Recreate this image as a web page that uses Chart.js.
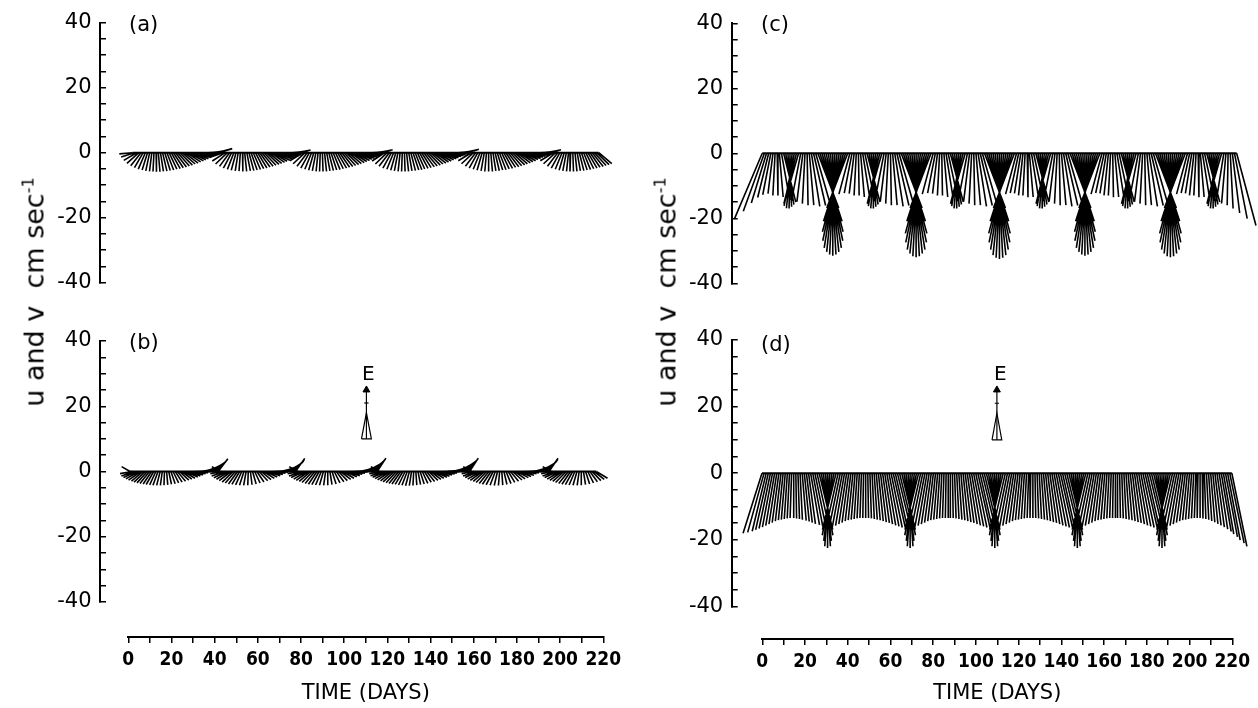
<!DOCTYPE html>
<html>
<head>
<meta charset="utf-8">
<script src="https://cdn.jsdelivr.net/npm/chart.js@4.4.0/dist/chart.umd.min.js"></script>
<style>
  body { margin: 0; background: #fff; width: 1258px; height: 708px; position: relative; overflow: hidden; }
  canvas { position: absolute; }
  .txt { position: absolute; font-family: "DejaVu Sans", sans-serif; color: #000; line-height: 1; white-space: nowrap; }
  .ylab { font-size: 27px; transform-origin: center center; transform: translate(-50%, -50%) rotate(-90deg); }
  .ylab sup { font-size: 16px; }
</style>
</head>
<body>
<canvas id="pa" width="640" height="320" style="left:0px;top:-10px"></canvas>
<canvas id="pb" width="640" height="324" style="left:0px;top:308px"></canvas>
<canvas id="ta" width="640" height="108" style="left:0px;top:600px"></canvas>
<canvas id="pc" width="618" height="322" style="left:640px;top:-10px"></canvas>
<canvas id="pd" width="618" height="330" style="left:640px;top:308px"></canvas>
<canvas id="tc" width="618" height="108" style="left:640px;top:600px"></canvas>

<div class="txt ylab" style="left:34px;top:292px">u and v&nbsp;&nbsp;cm sec<sup>-1</sup></div>
<div class="txt ylab" style="left:666px;top:292px">u and v&nbsp;&nbsp;cm sec<sup>-1</sup></div>
<div class="txt" style="left:129px;top:14px;font-size:21px">(a)</div>
<div class="txt" style="left:129px;top:332px;font-size:21px">(b)</div>
<div class="txt" style="left:761px;top:14px;font-size:21px">(c)</div>
<div class="txt" style="left:761px;top:334px;font-size:21px">(d)</div>
<div class="txt" style="left:362px;top:363px;font-size:20px">E</div>
<div class="txt" style="left:994px;top:363px;font-size:20px">E</div>

<script>
// daily current vectors: speed in cm/s, direction in degrees (0 = north, drawn to the right; 90 = east, drawn up)
const aFirstDay = 2;
const aSpeed = [
  4.0,4.3,4.6,4.9,5.1,5.3,5.5,5.6,5.7,5.8,5.8,5.9,5.9,5.8,5.8,5.7,5.7,5.6,5.6,5.5,5.5,5.4,5.4,5.3,5.3,5.2,5.2,5.1,5.1,5.0,5.0,4.9,4.9,4.8,4.8,4.7,4.7,4.6,4.5,4.4,4.3,
  4.0,4.4,4.7,5.0,5.2,5.4,5.5,5.6,5.7,5.7,5.8,5.8,5.7,5.7,5.6,5.6,5.5,5.5,5.4,5.4,5.3,5.3,5.2,5.2,5.1,5.1,5.0,5.0,4.9,4.9,4.8,4.8,4.7,4.6,4.5,4.4,
  4.1,4.4,4.7,5.0,5.2,5.4,5.5,5.6,5.7,5.8,5.8,5.8,5.8,5.7,5.7,5.6,5.6,5.5,5.5,5.4,5.4,5.3,5.3,5.2,5.2,5.1,5.1,5.0,5.0,4.9,4.9,4.8,4.8,4.7,4.7,4.6,4.5,4.4,
  4.1,4.4,4.7,5.0,5.2,5.4,5.5,5.6,5.7,5.8,5.8,5.8,5.8,5.7,5.7,5.6,5.6,5.5,5.5,5.4,5.4,5.3,5.3,5.2,5.2,5.1,5.1,5.0,5.0,4.9,4.9,4.9,4.8,4.8,4.7,4.7,4.6,4.5,4.5,4.4,
  4.0,4.4,4.7,5.0,5.2,5.4,5.5,5.6,5.7,5.8,5.8,5.8,5.7,5.7,5.6,5.6,5.5,5.5,5.4,5.4,5.3,5.3,5.2,5.2,5.1,5.1,5.0,5.0,4.9,4.9,4.9,4.8,4.8,4.7,4.7,4.6,4.5,4.4,
  4.0,4.4,4.7,5.0,5.2,5.4,5.5,5.6,5.7,5.8,5.8,5.8,5.8,5.7,5.7,5.6,5.6,5.5,5.5,5.4,5.4,5.3,5.3,5.2
];
const aDir = [
  185,198,211,222,232,240,247,253,258,263,267,271,275,279,283,287,291,295,299,303,307,311,315,319,323,327,331,335,339,343,347,351,354,357,0,3,6,9,12,15,17,
  186,200,213,224,234,242,249,255,261,266,271,276,281,285,289,293,297,301,305,309,313,317,321,325,329,333,337,341,345,349,353,357,1,5,8,11,
  185,199,212,223,233,241,248,254,259,264,268,272,276,280,284,288,292,296,300,304,308,312,316,320,324,328,332,336,340,344,348,352,356,0,3,6,9,12,
  186,200,213,224,233,241,248,254,259,264,268,272,276,280,284,288,291,294,298,302,306,310,314,318,322,326,330,334,338,342,346,350,353,356,359,2,5,8,11,14,
  185,199,212,223,233,241,248,254,260,265,270,275,279,283,287,291,295,299,303,307,311,315,319,323,327,331,335,339,343,347,351,354,357,0,3,6,9,12,
  185,199,212,223,233,241,248,254,259,264,268,272,276,280,284,288,292,296,300,304,308,312,316,320
];

const bFirstDay = 1;
const bSpeed = [
  3.0,3.8,4.2,4.4,4.5,4.6,4.6,4.7,4.7,4.7,4.6,4.6,4.5,4.5,4.4,4.3,4.2,4.1,4.0,4.0,3.9,3.9,3.9,3.9,3.9,4.0,4.0,4.0,4.1,4.1,4.2,4.2,4.3,4.4,4.5,4.6,4.7,4.8,4.9,5.0,5.0,4.9,
  3.0,3.8,4.2,4.4,4.5,4.6,4.7,4.7,4.7,4.6,4.5,4.4,4.3,4.2,4.1,4.0,3.9,3.9,3.9,3.9,4.0,4.0,4.1,4.1,4.2,4.3,4.4,4.5,4.6,4.7,4.8,4.9,5.0,5.0,5.0,4.9,
  3.0,3.8,4.2,4.4,4.5,4.6,4.6,4.7,4.7,4.7,4.6,4.5,4.4,4.3,4.2,4.1,4.0,3.9,3.9,3.9,3.9,4.0,4.0,4.1,4.1,4.2,4.3,4.4,4.5,4.6,4.7,4.8,4.9,5.0,5.0,5.0,5.0,4.9,
  3.0,3.8,4.2,4.4,4.5,4.6,4.6,4.7,4.7,4.7,4.7,4.6,4.6,4.5,4.5,4.4,4.3,4.2,4.1,4.0,4.0,3.9,3.9,3.9,3.9,3.9,4.0,4.0,4.0,4.1,4.1,4.2,4.2,4.3,4.4,4.5,4.6,4.7,4.8,4.9,5.0,5.0,4.9,
  3.0,3.8,4.2,4.4,4.5,4.6,4.6,4.7,4.7,4.7,4.6,4.5,4.4,4.3,4.2,4.1,4.0,3.9,3.9,3.9,3.9,4.0,4.0,4.1,4.1,4.2,4.3,4.4,4.5,4.6,4.7,4.8,4.9,5.0,5.0,5.0,4.9,
  3.0,3.8,4.2,4.4,4.5,4.6,4.6,4.7,4.7,4.7,4.6,4.5,4.4,4.3,4.2,4.1,4.0,3.9,3.9,3.9,3.9,4.0
];
const bDir = [
  150,190,199,205,210,215,220,224,228,232,236,240,245,250,256,262,268,275,282,289,296,303,310,317,323,329,335,340,345,350,355,0,5,10,15,20,25,30,35,40,46,53,
  150,190,199,206,212,218,224,229,234,239,245,252,260,268,277,286,295,304,313,321,328,335,341,347,353,358,3,8,13,18,23,28,34,40,47,55,
  150,190,199,205,211,216,221,226,231,236,241,247,254,262,270,279,288,297,306,314,322,329,336,342,348,353,358,3,8,13,18,23,28,33,38,44,50,57,
  150,190,198,204,209,214,219,223,227,231,235,239,244,249,255,261,267,274,281,288,295,302,309,316,322,328,334,339,344,349,354,359,4,9,14,19,24,29,34,39,44,50,57,
  150,190,199,205,211,216,221,226,231,236,242,249,257,265,274,283,292,301,310,318,325,332,338,344,350,355,0,5,10,15,20,25,30,35,41,48,56,
  150,190,199,205,211,216,221,226,231,236,241,247,254,262,270,279,288,297,306,314,322,329
];

const cFirstDay = 0;
const cSpeed = [
  22,19,16,14,13,12.5,13,13,13.5,14.5, 15.5,16,16.5,17,17,16.5,16,15.5, 15,15,15.5,16,16,16.5,16.5,16,
  18,22,25,27.5,29.5,30.5,31.2,31.5,31.2,30.5,29.5,27.5,25,22,18, 13,12.5,12.5,13,13,13.5,14,15, 15.5,16,16.5,17,17,16.5,16,15.5, 15,15,15.5,16,16,16.5,16.5,16,
  18,22,25.5,28,30,31,31.7,32,31.7,31,30,28,25.5,22,18, 13,12.5,12.5,13,13,13.5,14,15, 15.5,16,16.5,17,17,16.5,16,15.5, 15,15,15.5,16,16,16.5,16.5,16,
  18,22,25.5,28,30,31.5,32.2,32.5,32.2,31.5,30,28,25.5,22,18, 13,12.5,12.5,13,13,13.5,13.5,14,15, 15.5,16,16.5,17,17,16.5,16,15.5, 15,15,15.5,16,16,16.5,16.5,16,
  18,22,25,27.5,29.5,30.5,31.2,31.5,31.2,30.5,29.5,27.5,25,22,18, 13,12.5,12.5,13,13,13.5,13.5,14,15, 15.5,16,16.5,17,17,16.5,16,15.5, 15,15,15.5,16,16,16.5,16.5,16,
  18,22,25.5,28,30,31,31.7,32,31.7,31,30,28,25.5,22,18, 13,12.5,12.5,13,13,13.5,13.5,14,15, 15.5,16,16.5,17,17,16.5,16,15.5, 15,15.5,16,17,18.5,20.5,23
];
const cDir = [
  247,250,253,256,259,263,267,271,275,280, 284,279,274,269,264,259,256,254, 259,263,267,271,275,279,283,286,
  291,288,285,282,279,276,273,270,267,264,261,258,255,252,249, 255,259,263,267,271,275,279,282, 285,280,275,270,265,260,256,254, 259,263,267,271,275,279,283,286,
  291,288,285,282,279,276,273,270,267,264,261,258,255,252,249, 255,259,263,267,271,275,279,282, 285,280,275,270,265,260,256,254, 259,263,267,271,275,279,283,286,
  291,288,285,282,279,276,273,270,267,264,261,258,255,252,249, 255,258,261,264,267,271,275,279,282, 285,280,275,270,265,260,256,254, 259,263,267,271,275,279,283,286,
  291,288,285,282,279,276,273,270,267,264,261,258,255,252,249, 255,258,261,264,267,271,275,279,282, 285,280,275,270,265,260,256,254, 259,263,267,271,275,279,283,286,
  291,288,285,282,279,276,273,270,267,264,261,258,255,252,249, 255,258,261,264,267,271,275,279,282, 285,280,275,270,265,260,256,254, 261,265,269,273,277,281,285
];

const dFirstDay = 0;
const dSpeed = [
  19,18.5,18,17.5,17,16.5,16,15.5,15,14.5,14.2,14,13.8,13.6,13.5,13.5,13.6,13.8,14,14.3,14.6,15,15.4,15.8,16.3,16.8,17.2,
  17.5,19,20.5,22,22.5,22,20.5,19,17.5,
  17.5,17,16.5,16,15.5,15,14.5,14.2,14,13.8,13.6,13.5,13.5,13.5,13.5,13.6,13.8,14,14.2,14.5,14.8,15.1,15.5,15.9,16.3,16.7,17,17.2,17.4,17.5,
  17.5,19,20.5,22,22.5,22,20.5,19,17.5,
  17.5,17,16.5,16,15.5,15,14.5,14.2,14,13.8,13.6,13.5,13.5,13.5,13.5,13.5,13.6,13.8,14,14.2,14.5,14.8,15.1,15.5,15.9,16.3,16.7,17,17.2,17.4,17.5,
  17.5,19,20.5,22,22.5,22,20.5,19,17.5,
  17.5,17,16.5,16,15.5,15,14.5,14.2,14,13.8,13.6,13.5,13.5,13.5,13.5,13.6,13.8,14,14.2,14.5,14.8,15.1,15.5,15.9,16.3,16.7,17,17.2,17.4,17.5,
  17.5,19,20.5,22,22.5,22,20.5,19,17.5,
  17.5,17,16.5,16,15.5,15,14.5,14.2,14,13.8,13.6,13.5,13.5,13.5,13.5,13.5,13.6,13.8,14,14.2,14.5,14.8,15.1,15.5,15.9,16.3,16.7,17,17.2,17.4,17.5,
  17.5,19,20.5,22,22.5,22,20.5,19,17.5,
  17.5,17,16.5,16,15.5,15,14.5,14.2,14,13.8,13.6,13.5,13.5,13.5,13.6,13.8,14,14.4,14.8,15.3,15.8,16.4,17,17.8,18.6,19.5,20.5,21.5,22.5
];
const dDir = [
  252,254,256,257,258,259,260,261,262,263,264,265,266,267,268,270,271,272,273,275,276,277,278,280,281,282,283,
  284,281,277,274,270,266,263,259,256,
  257,258,259,260,261,262,263,264,265,266,267,268,269,270,271,272,273,274,275,276,277,278,279,280,281,282,283,283,284,284,
  284,281,277,274,270,266,263,259,256,
  257,258,259,260,261,262,263,264,265,266,267,268,269,270,270,271,272,273,274,275,276,277,278,279,280,281,282,283,283,284,284,
  284,281,277,274,270,266,263,259,256,
  257,258,259,260,261,262,263,264,265,266,267,268,269,270,271,272,273,274,275,276,277,278,279,280,281,282,283,283,284,284,
  284,281,277,274,270,266,263,259,256,
  257,258,259,260,261,262,263,264,265,266,267,268,269,270,270,271,272,273,274,275,276,277,278,279,280,281,282,283,283,284,284,
  284,281,277,274,270,266,263,259,256,
  257,258,259,260,261,262,263,264,265,266,267,268,269,270,271,272,273,274,275,276,277,278,279,280,280,281,281,282,282
];

// orientation key: an east-pointing arrow, base triangle from 10 to 18 cm/s, arrow head at 25
const keyDay = 111;
const keyBase = 10;
const keyApex = 18;
const keyCross = 21;
const keyTip = 25;

const yTicks = [-40, -20, 0, 20, 40];
const DAYS_PER_CMS = 1.52; // horizontal stick component, cm/s -> days on the time axis

function stickData(first, speed, dir) {
  const pts = [];
  speed.forEach((s, i) => {
    const a = dir[i] * Math.PI / 180;
    const t = first + i;
    pts.push({ x: t, y: 0 });
    pts.push({ x: t + s * Math.cos(a) * DAYS_PER_CMS, y: s * Math.sin(a) });
    pts.push({ x: t, y: NaN });
  });
  return pts;
}

function keyDatasets() {
  const d = keyDay;
  return [
    { data: [{ x: d, y: keyBase }, { x: d, y: keyTip }], borderWidth: 1.2 },
    { data: [{ x: d, y: keyTip }], showLine: false, pointRadius: 4, pointStyle: 'triangle', pointBackgroundColor: '#000', pointBorderColor: '#000' },
    { data: [{ x: d - 2.3, y: keyBase }, { x: d + 2.3, y: keyBase }, { x: d, y: keyApex }, { x: d - 2.3, y: keyBase }], borderWidth: 1.2 },
    { data: [{ x: d - 1, y: keyCross }, { x: d + 1, y: keyCross }], borderWidth: 1.2 }
  ];
}

function stickPanel(id, first, speed, dir, xMin, xMax, axisW, pad, withKey) {
  const last = first + speed.length - 1;
  const datasets = [
    { data: stickData(first, speed, dir), borderWidth: 1.6 },
    { data: [{ x: first, y: 0 }, { x: last, y: 0 }], borderWidth: 2 }
  ];
  if (withKey) datasets.push(...keyDatasets());
  datasets.forEach(ds => {
    if (ds.showLine === undefined) ds.showLine = true;
    ds.borderColor = '#000';
    ds.spanGaps = false;
    if (ds.pointRadius === undefined) ds.pointRadius = 0;
  });
  return new Chart(document.getElementById(id), {
    type: 'scatter',
    data: { datasets },
    options: {
      responsive: false,
      animation: false,
      events: [],
      layout: { padding: pad },
      plugins: { legend: { display: false }, tooltip: { enabled: false } },
      scales: {
        x: { type: 'linear', display: false, min: xMin, max: xMax },
        y: {
          min: -40, max: 40,
          afterFit: s => { s.width = axisW; },
          border: { display: true, color: '#000', width: 2 },
          grid: { drawOnChartArea: false, color: '#000', lineWidth: 1.5, tickLength: -6 },
          ticks: {
            stepSize: 5, autoSkip: false, padding: 14.5, color: '#000',
            font: { family: 'DejaVu Sans', size: 21 },
            callback: v => yTicks.includes(v) ? String(v) : ''
          }
        }
      }
    }
  });
}

function timeAxis(id, left, right, axisH) {
  return new Chart(document.getElementById(id), {
    type: 'scatter',
    data: { datasets: [] },
    options: {
      responsive: false,
      animation: false,
      events: [],
      layout: { padding: { left, right, top: 0, bottom: 0 } },
      plugins: { legend: { display: false }, tooltip: { enabled: false } },
      scales: {
        y: { display: false, min: 0, max: 1 },
        x: {
          type: 'linear', min: 0, max: 220,
          afterFit: s => { s.height = axisH; },
          border: { display: true, color: '#000', width: 2 },
          grid: { drawOnChartArea: false, color: '#000', lineWidth: 1.5, tickLength: 6 },
          ticks: {
            stepSize: 10, autoSkip: false, maxRotation: 0, padding: 6, color: '#000',
            font: { family: "'DejaVu Sans Condensed', 'DejaVu Sans', sans-serif", size: 19, weight: 'bold' },
            callback: v => v % 20 === 0 ? String(v) : ''
          },
          title: {
            display: true, text: 'TIME (DAYS)', color: '#000',
            font: { family: 'DejaVu Sans', size: 21 },
            padding: { top: 0, bottom: 2 }
          }
        }
      }
    }
  });
}

// left column: axis at x=100, day 0 at x=128.3; plot spans y 22.7..282.7 and 341..602
stickPanel('pa', aFirstDay, aSpeed, aDir, -13, 236, 100, { top: 32.7, bottom: 27.3, left: 0, right: 2.4 }, false);
stickPanel('pb', bFirstDay, bSpeed, bDir, -13, 236, 100, { top: 33, bottom: 30, left: 0, right: 2.4 }, true);
timeAxis('ta', 128.3, 36.7, 71);

// right column: axis at x=731.7, day 0 at x=762.3; plot spans y 23.3..283.3 and 340..606.3
stickPanel('pc', cFirstDay, cSpeed, cDir, -14.3, 232, 91.7, { top: 33.3, bottom: 28.7, left: 0, right: 0 }, false);
stickPanel('pd', dFirstDay, dSpeed, dDir, -14.3, 232, 91.7, { top: 32, bottom: 31.7, left: 0, right: 0 }, true);
timeAxis('tc', 122.3, 25.7, 69);
</script>
</body>
</html>
